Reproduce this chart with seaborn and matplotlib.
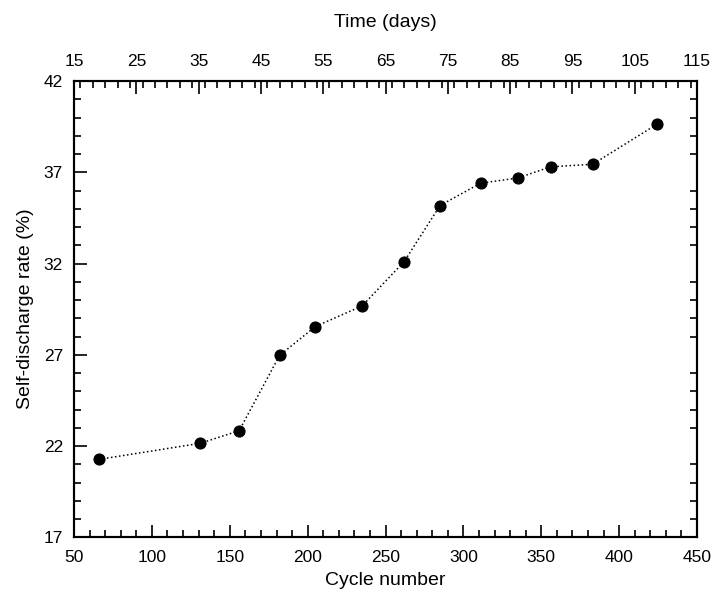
import pandas as pd
import matplotlib
matplotlib.use("Agg")
import matplotlib.pyplot as plt
from matplotlib.ticker import MultipleLocator
import seaborn as sns

# values
cycles = [66, 131, 156, 182, 205, 235, 262, 285, 311, 335, 356, 383, 424]
rate = [21.27, 22.15, 22.84, 26.97, 28.55, 29.68, 32.11, 35.18, 36.4, 36.69, 37.3, 37.44, 39.62]
y_ticks = [17, 22, 27, 32, 37, 42]
day_ticks = [15, 25, 35, 45, 55, 65, 75, 85, 95, 105, 115]

df = pd.DataFrame({'Cycle': cycles, 'Rate': rate})

sns.set_style("ticks")
plt.rcParams['font.family'] = ['Liberation Sans', 'DejaVu Sans']
plt.rcParams['text.color'] = 'black'
plt.rcParams['axes.labelcolor'] = 'black'
plt.rcParams['xtick.color'] = 'black'
plt.rcParams['ytick.color'] = 'black'
plt.rcParams['axes.edgecolor'] = 'black'

fig = plt.figure(figsize=(7.12, 5.98), dpi=100)
ax = fig.add_axes([0.104, 0.1015, 0.875, 0.763])

sns.lineplot(data=df, x='Cycle', y='Rate', ax=ax, color='black', linestyle=':',
             linewidth=1.1, marker='o', markersize=8, markeredgecolor='black')

ax.set_xlim(50, 450)
ax.set_ylim(17, 42)
ax.xaxis.set_major_locator(MultipleLocator(50))
ax.xaxis.set_minor_locator(MultipleLocator(10))
ax.set_yticks(y_ticks)
ax.yaxis.set_minor_locator(MultipleLocator(1))
ax.set_xlabel("Cycle number", fontsize=14, labelpad=5)
ax.set_ylabel("Self-discharge rate (%)", fontsize=14, labelpad=7)

ax.tick_params(which='both', direction='in', labelsize=12.5, width=1.2, top=False, right=True, labelright=False)
ax.tick_params(which='major', length=9)
ax.tick_params(which='minor', length=5)
ax.tick_params(axis='x', which='both', pad=9)
ax.tick_params(axis='y', which='both', pad=8)
ax.tick_params(axis='y', which='major', right=False)
for s in ax.spines.values():
    s.set_linewidth(1.5)

# top axis: time in days
ax2 = ax.twiny()
ax2.set_xlim(15, 115)
ax2.set_xticks(day_ticks)
ax2.xaxis.set_minor_locator(MultipleLocator(2))
ax2.tick_params(which='both', direction='in', labelsize=12.5, width=1.2, pad=9)
ax2.tick_params(which='major', length=9)
ax2.tick_params(which='minor', length=5)
ax2.set_xlabel("Time (days)", fontsize=14, labelpad=19)
for s in ax2.spines.values():
    s.set_linewidth(1.5)

plt.savefig("out.png", dpi=100)
